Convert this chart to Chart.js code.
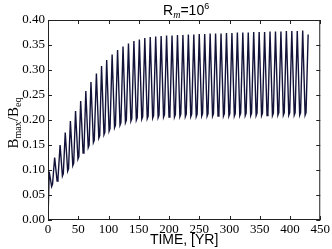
<!DOCTYPE html>
<html>
<head>
<meta charset="utf-8">
<script src="https://cdn.jsdelivr.net/npm/chart.js@4.4.0/dist/chart.umd.min.js"></script>
<style>
  html, body { margin: 0; padding: 0; background: #fff; }
  #wrap { width: 332px; height: 249px; }
</style>
</head>
<body>
<div id="wrap"><canvas id="chart"></canvas></div>
<script>
// values (time in years, B_max/B_eq)
const startTimes = [0];
const startValues = [0];

const peakTimes = [
    2, 11, 20, 28.5, 37, 45.5, 54, 62.5, 71, 80,
    88.5, 97, 106, 115, 124, 133, 142, 151, 160, 169,
    178, 187, 196, 205, 214, 223, 232, 241, 250, 259,
    268, 277, 286, 295, 304, 313, 322, 331, 340, 349,
    358, 367, 376, 385, 394, 403, 412, 421, 430
];
const peakValues = [
    0.097, 0.125, 0.150, 0.175, 0.198, 0.218, 0.238, 0.258, 0.276, 0.293,
    0.308, 0.320, 0.331, 0.340, 0.347, 0.353, 0.358, 0.361, 0.364, 0.366,
    0.367, 0.368, 0.369, 0.369, 0.370, 0.370, 0.371, 0.371, 0.372, 0.372,
    0.373, 0.373, 0.373, 0.374, 0.374, 0.375, 0.375, 0.375, 0.376, 0.376,
    0.376, 0.377, 0.377, 0.377, 0.378, 0.378, 0.378, 0.379, 0.371
];

// each trough has a short foot: the low point, then a small shoulder
const troughTimes = [
    6.0, 15.0, 23.8, 32.5, 41.0, 49.5, 58.0, 66.5, 75.0, 84.0,
    92.5, 101.0, 110.0, 119.0, 128.0, 137.0, 146.0, 155.0, 164.0, 173.0,
    182.0, 191.0, 200.0, 209.0, 218.0, 227.0, 236.0, 245.0, 254.0, 263.0,
    272.0, 281.0, 290.0, 299.0, 308.0, 317.0, 326.0, 335.0, 344.0, 353.0,
    362.0, 371.0, 380.0, 389.0, 398.0, 407.0, 416.0, 425.0
];
const troughValues = [
    0.067, 0.078, 0.088, 0.098, 0.109, 0.122, 0.134, 0.145, 0.155, 0.164,
    0.171, 0.178, 0.185, 0.190, 0.195, 0.198, 0.200, 0.202, 0.203, 0.204,
    0.205, 0.206, 0.206, 0.206, 0.207, 0.207, 0.207, 0.207, 0.208, 0.208,
    0.208, 0.208, 0.208, 0.208, 0.208, 0.209, 0.209, 0.209, 0.209, 0.209,
    0.209, 0.209, 0.210, 0.210, 0.210, 0.210, 0.210, 0.210
];
const shoulderTimes = troughTimes.map(t => t + 1.5);
const shoulderValues = [
    0.072, 0.083, 0.093, 0.103, 0.114, 0.127, 0.139, 0.150, 0.160, 0.169,
    0.176, 0.183, 0.190, 0.195, 0.200, 0.203, 0.205, 0.207, 0.208, 0.209,
    0.210, 0.211, 0.211, 0.211, 0.212, 0.212, 0.212, 0.212, 0.213, 0.213,
    0.213, 0.213, 0.213, 0.213, 0.213, 0.214, 0.214, 0.214, 0.214, 0.214,
    0.214, 0.214, 0.215, 0.215, 0.215, 0.215, 0.215, 0.215
];

const xTicks = [0, 50, 100, 150, 200, 250, 300, 350, 400, 450];
const yTicks = [0, 0.05, 0.10, 0.15, 0.20, 0.25, 0.30, 0.35, 0.40];

const LINE = '#13133a';

// merge peaks, troughs and shoulders into one time series
const points = startTimes.map((t, i) => ({ x: t, y: startValues[i] }));
peakTimes.forEach((t, i) => {
    points.push({ x: t, y: peakValues[i] });
    if (i < troughTimes.length) {
        points.push({ x: troughTimes[i], y: troughValues[i] });
        points.push({ x: shoulderTimes[i], y: shoulderValues[i] });
    }
});

// frame, inward ticks and the rich-text labels
const decorations = {
    id: 'decorations',
    afterDraw(chart) {
        const { ctx, chartArea: a, scales: { x, y } } = chart;
        ctx.save();
        ctx.strokeStyle = '#222';
        ctx.lineWidth = 1;
        ctx.strokeRect(a.left + 0.5, a.top + 0.5, a.right - a.left - 1, a.bottom - a.top - 1);
        ctx.beginPath();
        xTicks.forEach(v => {
            const px = Math.round(x.getPixelForValue(v)) + 0.5;
            ctx.moveTo(px, a.bottom); ctx.lineTo(px, a.bottom - 4);
            ctx.moveTo(px, a.top); ctx.lineTo(px, a.top + 4);
        });
        yTicks.forEach(v => {
            const py = Math.round(y.getPixelForValue(v)) + 0.5;
            ctx.moveTo(a.left, py); ctx.lineTo(a.left + 4, py);
            ctx.moveTo(a.right, py); ctx.lineTo(a.right - 4, py);
        });
        ctx.stroke();

        ctx.fillStyle = '#000';
        ctx.textBaseline = 'alphabetic';

        // title R_m=10^6
        const parts = [
            ['R', '14px "Liberation Sans"', 0],
            ['m', 'italic 10px "Liberation Serif"', 3],
            ['=10', '14px "Liberation Sans"', 0],
            ['6', '9px "Liberation Sans"', -6]
        ];
        let w = 0;
        parts.forEach(p => { ctx.font = p[1]; w += ctx.measureText(p[0]).width; });
        let cx = (a.left + a.right) / 2 + 2 - w / 2;
        parts.forEach(p => {
            ctx.font = p[1];
            ctx.fillText(p[0], cx, 15 + p[2]);
            cx += ctx.measureText(p[0]).width;
        });

        // x title
        ctx.font = '14px "Liberation Sans"';
        ctx.textAlign = 'center';
        ctx.fillText('TIME, [YR]', (a.left + a.right) / 2, 244);
        ctx.textAlign = 'left';

        // y title B_max/B_eq
        const yparts = [
            ['B', '15px "Liberation Serif"', 0],
            ['max', '10px "Liberation Serif"', 3],
            ['/B', '15px "Liberation Serif"', 0],
            ['eq', '10px "Liberation Serif"', 3]
        ];
        w = 0;
        yparts.forEach(p => { ctx.font = p[1]; w += ctx.measureText(p[0]).width; });
        ctx.translate(18, (a.top + a.bottom) / 2 + 3);
        ctx.rotate(-Math.PI / 2);
        cx = -w / 2;
        yparts.forEach(p => {
            ctx.font = p[1];
            ctx.fillText(p[0], cx, p[2]);
            cx += ctx.measureText(p[0]).width;
        });
        ctx.restore();
    }
};

new Chart(document.getElementById('chart'), {
    type: 'line',
    data: {
        datasets: [{
            data: points,
            borderColor: LINE,
            borderWidth: 1.4,
            pointRadius: 0,
            tension: 0,
            fill: false
        }]
    },
    options: {
        responsive: true,
        maintainAspectRatio: false,
        animation: false,
        events: [],
        layout: { padding: { top: 20, right: 10, left: 0, bottom: 0 } },
        plugins: { legend: { display: false }, tooltip: { enabled: false }, title: { display: false } },
        scales: {
            x: {
                type: 'linear',
                min: 0,
                max: 450,
                afterFit: s => { s.height = 29; },
                afterBuildTicks: s => { s.ticks = xTicks.map(v => ({ value: v })); },
                grid: { display: false, drawTicks: false },
                border: { display: false },
                ticks: {
                    color: '#000',
                    padding: 2,
                    maxRotation: 0,
                    font: { family: '"Liberation Serif"', size: 13 },
                    callback: v => String(v)
                }
            },
            y: {
                type: 'linear',
                min: 0,
                max: 0.4,
                afterFit: s => { s.width = 48; },
                afterBuildTicks: s => { s.ticks = yTicks.map(v => ({ value: v })); },
                grid: { display: false, drawTicks: false },
                border: { display: false },
                ticks: {
                    color: '#000',
                    padding: 3,
                    font: { family: '"Liberation Serif"', size: 13 },
                    callback: v => v.toFixed(2)
                }
            }
        }
    },
    plugins: [decorations]
});
</script>
</body>
</html>
